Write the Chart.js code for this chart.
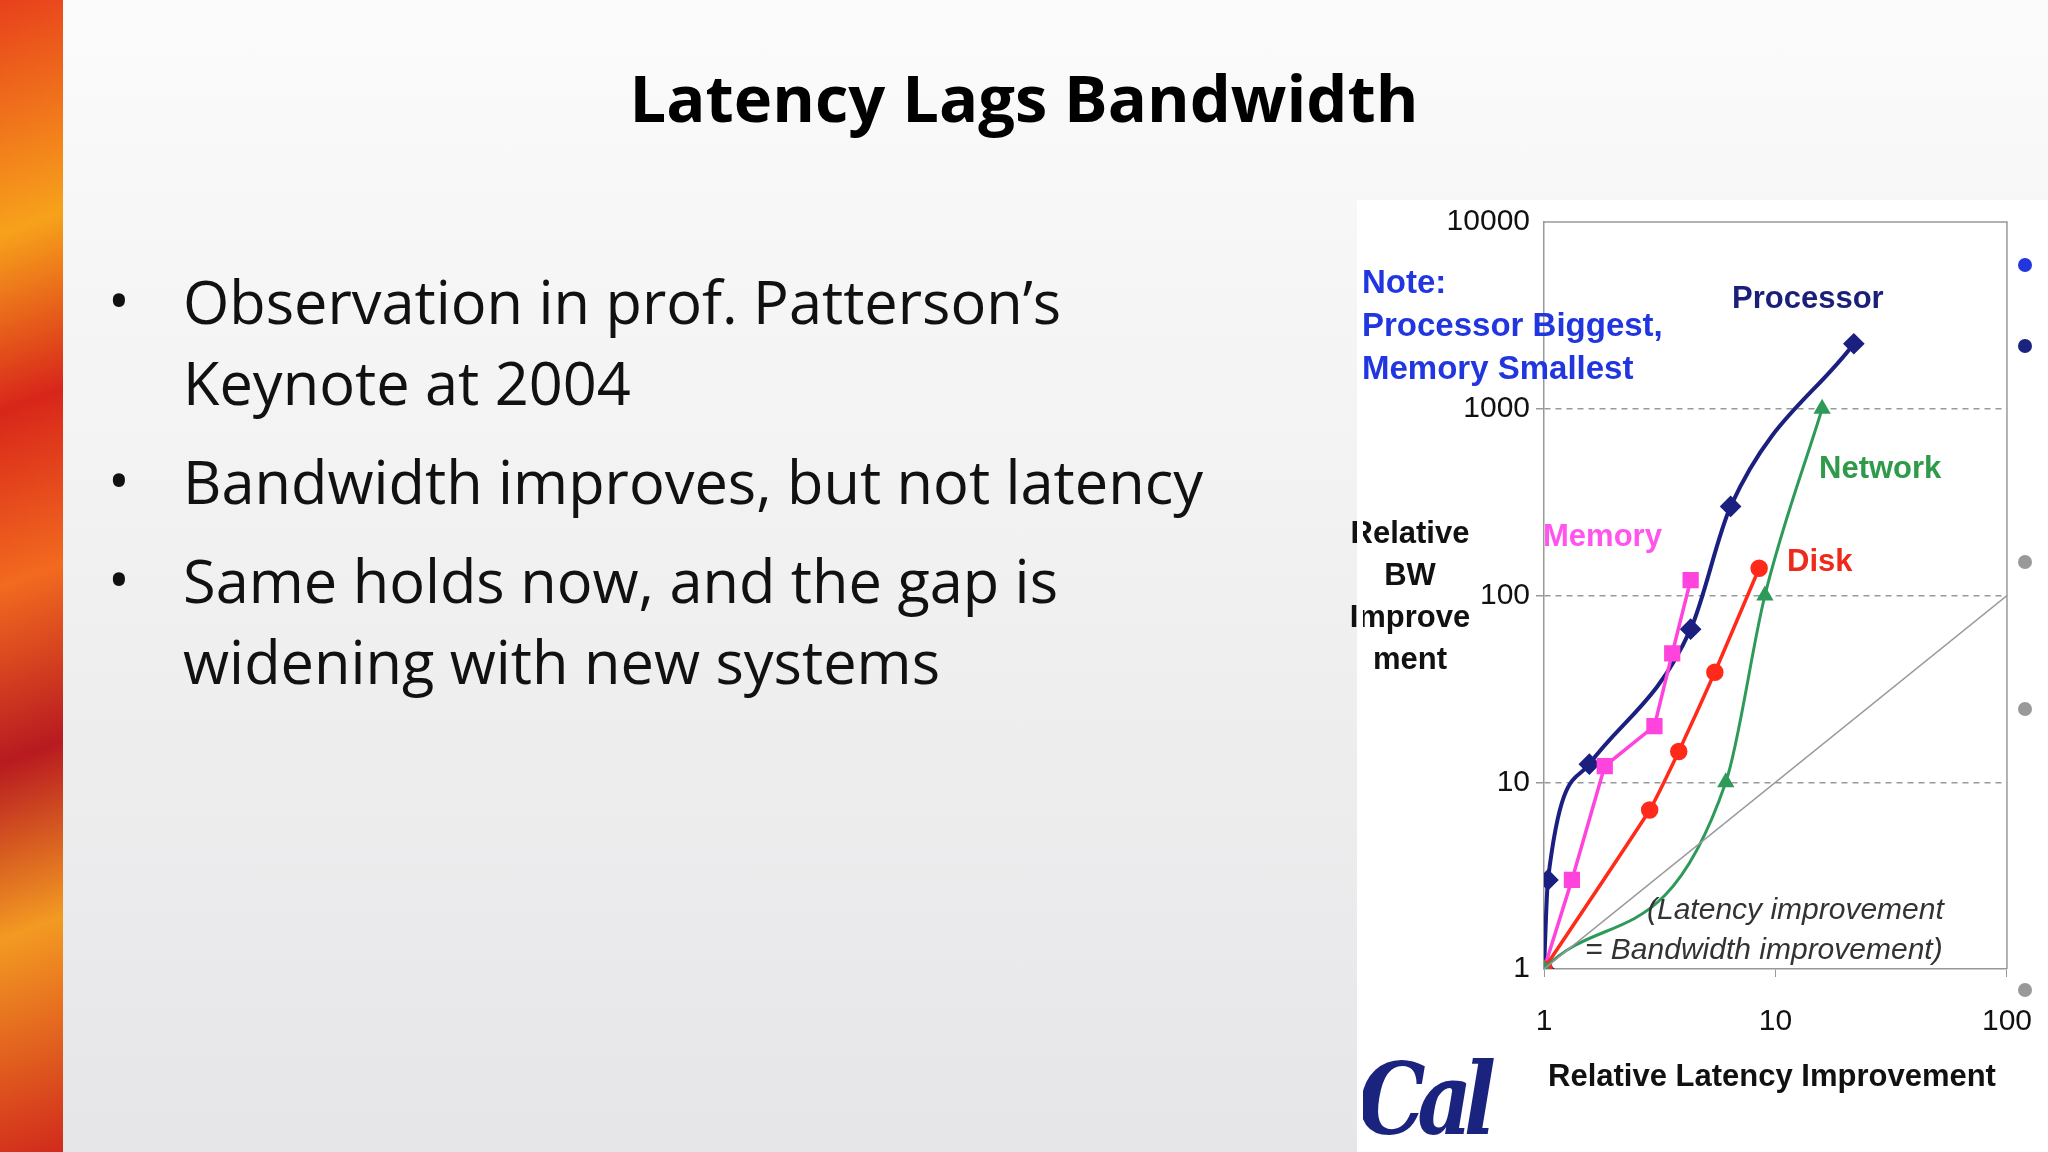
<!DOCTYPE html>
<html>
<head>
<meta charset="utf-8">
<script src="https://cdn.jsdelivr.net/npm/chart.js@4"></script>
<style>
  body { margin: 0; width: 2048px; height: 1152px; overflow: hidden; position: relative;
         background: linear-gradient(#fbfbfb, #e6e6e8); font-family: "Open Sans", sans-serif; }
  .strip { position: absolute; left: 0; top: 0; width: 63px; height: 1152px;
           background: linear-gradient(160deg, #e8401c 0%, #f7a21b 20%, #d8261a 35%, #f26a1f 50%, #b81a20 65%, #f39a22 80%, #d12a1c 100%); }
  .title { position: absolute; top: 53px; left: 0; width: 2048px; text-align: center; z-index: 5;
           font-weight: bold; font-size: 65px; color: #000; }
  .bul { position: absolute; left: 108px; font-size: 58px; color: #111; }
  .txt { position: absolute; left: 183px; font-size: 59.5px; color: #111; line-height: 81px; }
  .panel { position: absolute; left: 1357px; top: 200px; width: 691px; height: 952px; background: #fff; }
  .lbl { position: absolute; font-family: "Liberation Sans", Arial, sans-serif; font-weight: bold; white-space: nowrap; }
  .dot { position: absolute; width: 14px; height: 14px; border-radius: 7px; }
  canvas { position: absolute; left: 1357px; top: 150px; }
</style>
</head>
<body>
<div class="strip"></div>
<div class="title">Latency Lags Bandwidth</div>
<div class="bul" style="top:260px">•</div>
<div class="txt" style="top:260px">Observation in prof. Patterson’s<br>Keynote at 2004</div>
<div class="bul" style="top:440px">•</div>
<div class="txt" style="top:440px">Bandwidth improves, but not latency</div>
<div class="bul" style="top:539px">•</div>
<div class="txt" style="top:539px">Same holds now, and the gap is<br>widening with new systems</div>
<div class="panel"></div>
<canvas id="chart" width="702" height="1002"></canvas>

<div class="lbl" style="left:1362px;top:260px;font-size:33px;color:#2236e0;line-height:43px">Note:<br>Processor Biggest,<br>Memory Smallest</div>
<div class="lbl" style="left:1732px;top:280px;font-size:31px;color:#1a1f7a">Processor</div>
<div class="lbl" style="left:1819px;top:450px;font-size:31px;color:#2e9a4a">Network</div>
<div class="lbl" style="left:1543px;top:518px;font-size:31px;color:#ff55ee">Memory</div>
<div class="lbl" style="left:1787px;top:543px;font-size:31px;color:#ee2a1a">Disk</div>
<div class="lbl" style="left:1340px;top:512px;width:140px;text-align:center;font-size:31px;color:#111;line-height:42px">Relative<br>BW<br>Improve<br>ment</div>
<div class="lbl" style="left:1647px;top:892px;font-size:30px;color:#333;font-weight:normal;font-style:italic">(Latency improvement</div>
<div class="lbl" style="left:1585px;top:932px;font-size:30px;color:#333;font-weight:normal;font-style:italic">= Bandwidth improvement)</div>
<div class="lbl" style="left:1548px;top:1058px;font-size:31px;color:#111">Relative Latency Improvement</div>
<div class="lbl" style="left:1358px;top:1040px;font-size:100px;color:#1a237e;font-family:'DejaVu Serif',serif;font-style:italic;letter-spacing:-10px;transform:scaleX(0.85);transform-origin:left">Cal</div>
<div style="position:absolute;left:1357px;top:200px;width:6px;height:952px;background:#fff"></div>
<div class="dot" style="left:2018px;top:258px;background:#2236e0"></div>
<div class="dot" style="left:2018px;top:339px;background:#1a237e"></div>
<div class="dot" style="left:2018px;top:555px;background:#999"></div>
<div class="dot" style="left:2018px;top:702px;background:#999"></div>
<div class="dot" style="left:2018px;top:983px;background:#999"></div>

<script>
// 数据
const processorX = [1, 1.04, 1.57, 4.3, 6.4, 21.8];
const processorY = [1, 3.0, 12.5, 66, 300, 2230];
const memoryX = [1, 1.32, 1.83, 3.0, 3.58, 4.3];
const memoryY = [1, 3.0, 12.2, 20, 49, 121];
const diskX = [1, 2.86, 3.82, 5.47, 8.5];
const diskY = [1, 7.1, 14.6, 38.8, 140];
const networkX = [1, 6.1, 9.0, 15.9];
const networkY = [1, 10, 100, 1000];
const equalX = [1, 100];
const equalY = [1, 100];
const xTicks = [1, 10, 100];
const yTicks = [1, 10, 100, 1000, 10000];

function pts(xs, ys) { return xs.map((x, i) => ({ x: x, y: ys[i] })); }

// 绘图区上边框和右边框
const frame = {
    id: 'frame',
    afterDraw(chart) {
        const a = chart.chartArea, ctx = chart.ctx;
        ctx.save();
        ctx.strokeStyle = '#999';
        ctx.lineWidth = 1.5;
        ctx.beginPath();
        ctx.moveTo(a.left, a.top); ctx.lineTo(a.right, a.top); ctx.lineTo(a.right, a.bottom);
        ctx.stroke();
        ctx.restore();
    }
};

new Chart(document.getElementById('chart'), {
    type: 'line',
    data: {
        datasets: [
            { label: 'Equal', data: pts(equalX, equalY), borderColor: '#999', borderWidth: 1.5, pointRadius: 0 },
            { label: 'Network', data: pts(networkX, networkY), borderColor: '#2e9a5a', backgroundColor: '#2e9a5a',
              borderWidth: 3, pointStyle: 'triangle', pointRadius: 7, cubicInterpolationMode: 'monotone' },
            { label: 'Disk', data: pts(diskX, diskY), borderColor: '#ff2a1a', backgroundColor: '#ff2a1a',
              borderWidth: 3.5, pointStyle: 'circle', pointRadius: 7, tension: 0.15 },
            { label: 'Memory', data: pts(memoryX, memoryY), borderColor: '#ff44dd', backgroundColor: '#ff44dd',
              borderWidth: 3.5, pointStyle: 'rect', pointRadius: 9 },
            { label: 'Processor', data: pts(processorX, processorY), borderColor: '#1a1f80', backgroundColor: '#1a1f80',
              borderWidth: 4, pointStyle: 'rectRot', pointRadius: 8, cubicInterpolationMode: 'monotone' }
        ]
    },
    options: {
        responsive: false,
        animation: false,
        layout: { padding: { left: 0, right: 0, top: 72, bottom: 0 } },
        plugins: { legend: { display: false }, tooltip: { enabled: false } },
        scales: {
            x: {
                type: 'logarithmic', min: 1, max: 100,
                afterBuildTicks: s => { s.ticks = xTicks.map(v => ({ value: v })); },
                afterFit: s => { s.height = 183; },
                ticks: { callback: v => String(v), padding: 27, color: '#111',
                         font: { family: 'Liberation Sans', size: 30 }, maxRotation: 0 },
                grid: { drawOnChartArea: false, tickLength: 8, color: '#999' },
                border: { color: '#999', width: 1.5 }
            },
            y: {
                type: 'logarithmic', min: 1, max: 10000,
                afterBuildTicks: s => { s.ticks = yTicks.map(v => ({ value: v })); },
                afterFit: s => { s.width = 187; },
                ticks: { callback: v => String(v), padding: 6, color: '#111',
                         font: { family: 'Liberation Sans', size: 30 } },
                grid: {
                    color: c => (c.tick && (c.tick.value === 1 || c.tick.value === 10000)) ? 'rgba(0,0,0,0)' : '#999',
                    lineWidth: 1.5, tickLength: 8
                },
                border: { color: '#999', width: 1.5, dash: [6, 5] }
            }
        }
    },
    plugins: [frame]
});
</script>
</body>
</html>
